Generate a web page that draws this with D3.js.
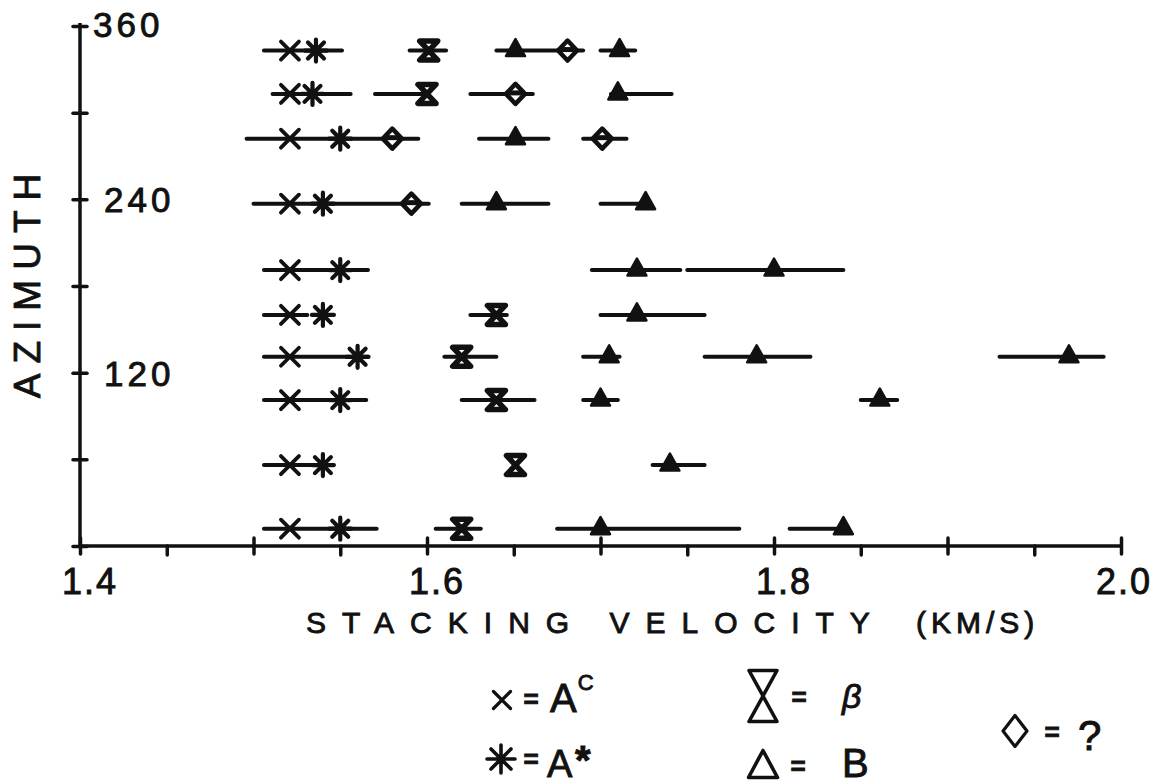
<!DOCTYPE html>
<html>
<head>
<meta charset="utf-8">
<script src="https://cdn.jsdelivr.net/npm/d3@7"></script>
<style>
  html, body { margin: 0; padding: 0; background: #fff; }
  svg { display: block; }
  text { font-family: "Liberation Sans", "DejaVu Sans", sans-serif; fill: #111; stroke: #111; stroke-width: 0.9px; }
</style>
</head>
<body>
<svg id="chart" width="1153" height="784"></svg>
<script>
// ---------------- data ----------------
const azimuth = [343, 313, 282, 237, 191, 160, 131, 101, 56, 12];
const velAc    = [1.521, 1.521, 1.521, 1.521, 1.521, 1.521, 1.521, 1.521, 1.521, 1.521];
const velAstar = [1.536, 1.534, 1.550, 1.540, 1.550, 1.540, 1.560, 1.550, 1.540, 1.550];
const velBeta  = [1.601, 1.600, null, null, null, 1.640, 1.620, 1.640, 1.651, 1.620];
const velB = [
  [1.651, 1.711], [1.710], [1.651], [1.640, 1.726], [1.721, 1.800],
  [1.721], [1.705, 1.790, 1.970], [1.700, 1.861], [1.740], [1.700, 1.840]
];
const velQ = [[1.681], [1.651], [1.580, 1.701], [1.591], [], [], [], [], [], []];
const barRanges = [
  [[1.506, 1.551], [1.590, 1.611], [1.640, 1.690], [1.700, 1.720]],
  [[1.511, 1.556], [1.570, 1.600], [1.625, 1.661], [1.706, 1.741]],
  [[1.496, 1.595], [1.630, 1.670], [1.690, 1.715]],
  [[1.500, 1.601], [1.620, 1.670], [1.700, 1.726]],
  [[1.506, 1.566], [1.695, 1.746], [1.750, 1.840]],
  [[1.506, 1.531], [1.625, 1.646], [1.700, 1.760]],
  [[1.506, 1.566], [1.610, 1.640], [1.690, 1.711], [1.760, 1.821], [1.930, 1.990]],
  [[1.506, 1.565], [1.620, 1.662], [1.690, 1.710], [1.850, 1.871]],
  [[1.506, 1.540], [1.730, 1.760]],
  [[1.506, 1.571], [1.605, 1.631], [1.675, 1.780], [1.809, 1.840]]
];
const xMinorTicks = [1.45, 1.55, 1.65, 1.75, 1.85, 1.95];
const xMajorTicks = [1.4, 1.5, 1.6, 1.7, 1.8, 1.9, 2.0];
const xTickLabels = ["1.4", "1.6", "1.8", "2.0"];
const xLabelValues = [1.4, 1.6, 1.8, 2.0];
const yTicks = [0, 60, 120, 180, 240, 300, 360];
const yTickLabels = ["120", "240", "360"];
const yLabelValues = [120, 240, 360];
const xTitle = "STACKING VELOCITY";
const xTitleUnit = "(KM/S)";
const yTitle = "AZIMUTH";

// ---------------- setup ----------------
const svg = d3.select("#chart");
svg.append("rect").attr("width", 1153).attr("height", 784).attr("fill", "#fff");

const x = d3.scaleLinear().domain([1.4, 2.0]).range([80, 1121]);
const y = d3.scaleLinear().domain([0, 360]).range([546, 26]);
const INK = "#111";

// ---------------- axes ----------------
const gx = svg.append("g").attr("transform", `translate(0,${y(0)})`);
gx.call(d3.axisBottom(x).tickValues(xMinorTicks).tickSize(9).tickFormat(""));
const gxMaj = svg.append("g").attr("transform", `translate(0,${y(0)})`);
gxMaj.call(d3.axisBottom(x).tickValues(xMajorTicks).tickSize(8).tickFormat(""));
gxMaj.selectAll(".tick line").attr("y1", -8).attr("y2", 8);
gxMaj.select(".domain").remove();
gx.select(".domain").attr("d", `M${x(1.4)},0H${x(2.0)}`);

const gy = svg.append("g").attr("transform", `translate(${x(1.4)},0)`);
gy.call(d3.axisLeft(y).tickValues(yTicks).tickSize(7).tickFormat(""));
gy.selectAll(".tick line").attr("x1", -7).attr("x2", 7);
gy.select(".domain").attr("d", `M0,${y(362)}V${y(0)}`);

svg.selectAll(".domain").attr("stroke", INK).attr("stroke-width", 3.5).attr("fill", "none");
svg.selectAll(".tick line").attr("stroke", INK).attr("stroke-width", 3.5).attr("stroke-linecap", "round");

// x tick labels
svg.append("g").selectAll("text").data(xLabelValues).join("text")
  .attr("x", d => x(d) + (d >= 2.0 ? 3 : 10)).attr("y", 594)
  .attr("text-anchor", "middle").attr("font-size", 36).attr("letter-spacing", 2)
  .text((d, i) => xTickLabels[i]);

// y tick labels
svg.append("g").selectAll("text").data(yLabelValues).join("text")
  .attr("x", d => d === 360 ? 93 : 104)
  .attr("y", d => d === 360 ? 37 : y(d) + 13)
  .attr("font-size", 35).attr("letter-spacing", 4)
  .text((d, i) => yTickLabels[i]);

// axis titles
svg.append("text").attr("x", 306).attr("y", 633).attr("font-size", 30)
  .attr("letter-spacing", 16).text(xTitle);
svg.append("text").attr("x", 916).attr("y", 633).attr("font-size", 30)
  .attr("letter-spacing", 5).text(xTitleUnit);

svg.append("text")
  .attr("transform", `translate(40,${(170 + 392) / 2}) rotate(-90)`)
  .attr("text-anchor", "middle").attr("font-size", 37).attr("letter-spacing", 10)
  .text(yTitle);

// ---------------- symbols ----------------
const sym = {
  cross: (s) => `M${-s},${-s}L${s},${s}M${-s},${s}L${s},${-s}`,
  star: (s, t) => `M${-s},${-s}L${s},${s}M${-s},${s}L${s},${-s}M0,${-t}L0,${t}M${-t},0L${t},0`,
  hourglass: (w, h) => `M${-w},${-h}L${w},${-h}L0,0ZM0,0L${-w},${h}L${w},${h}Z`,
  tri: (w, up, down) => `M0,${-up}L${w},${down}L${-w},${down}Z`,
  diamond: (w, h) => `M0,${-h}L${w},0L0,${h}L${-w},0Z`
};

// ---------------- data marks ----------------
const plot = svg.append("g");

// error bars
const segs = [];
barRanges.forEach((row, i) => row.forEach(r => segs.push({ az: azimuth[i], lo: r[0], hi: r[1] })));
plot.append("g").selectAll("line").data(segs).join("line")
  .attr("x1", d => x(d.lo)).attr("x2", d => x(d.hi))
  .attr("y1", d => y(d.az)).attr("y2", d => y(d.az))
  .attr("stroke", INK).attr("stroke-width", 4).attr("stroke-linecap", "round");

function pts(arr) {
  return arr.map((v, i) => ({ v, az: azimuth[i] })).filter(d => d.v != null);
}
function multiPts(arr) {
  const out = [];
  arr.forEach((row, i) => row.forEach(v => out.push({ v, az: azimuth[i] })));
  return out;
}

// diamonds (?)
plot.append("g").selectAll("path").data(multiPts(velQ)).join("path")
  .attr("transform", d => `translate(${x(d.v)},${y(d.az)})`)
  .attr("d", sym.diamond(9.5, 10))
  .attr("fill", "#fff").attr("stroke", INK).attr("stroke-width", 4.5).attr("stroke-linejoin", "round");
plot.append("g").selectAll("line").data(multiPts(velQ)).join("line")
  .attr("x1", d => x(d.v) - 9).attr("x2", d => x(d.v) + 9)
  .attr("y1", d => y(d.az) - 1).attr("y2", d => y(d.az) - 1)
  .attr("stroke", INK).attr("stroke-width", 5);

// A^c crosses
plot.append("g").selectAll("path").data(pts(velAc)).join("path")
  .attr("transform", d => `translate(${x(d.v)},${y(d.az)})`)
  .attr("d", sym.cross(9))
  .attr("fill", "none").attr("stroke", INK).attr("stroke-width", 3.8).attr("stroke-linecap", "round");

// A* asterisks
plot.append("g").selectAll("path").data(pts(velAstar)).join("path")
  .attr("transform", d => `translate(${x(d.v)},${y(d.az)})`)
  .attr("d", sym.star(8, 11))
  .attr("fill", "none").attr("stroke", INK).attr("stroke-width", 4.2).attr("stroke-linecap", "round");

// beta hourglasses
plot.append("g").selectAll("path").data(pts(velBeta)).join("path")
  .attr("transform", d => `translate(${x(d.v)},${y(d.az)})`)
  .attr("d", sym.hourglass(9, 9.5))
  .attr("fill", "#fff").attr("stroke", INK).attr("stroke-width", 5.5).attr("stroke-linejoin", "round");

// B triangles
plot.append("g").selectAll("path").data(multiPts(velB)).join("path")
  .attr("transform", d => `translate(${x(d.v)},${y(d.az)})`)
  .attr("d", sym.tri(9.5, 11.5, 5.5))
  .attr("fill", INK).attr("stroke", INK).attr("stroke-width", 2.5).attr("stroke-linejoin", "round");

// ---------------- legend ----------------
const lg = svg.append("g");
const legStroke = { fill: "none", stroke: INK, "stroke-width": 3.2, "stroke-linecap": "round", "stroke-linejoin": "round" };
function symAt(d, cx, cy, sw) {
  const p = lg.append("path").attr("d", d).attr("transform", `translate(${cx},${cy})`);
  Object.entries(legStroke).forEach(([k, v]) => p.attr(k, v));
  if (sw) p.attr("stroke-width", sw);
  return p;
}
symAt(sym.cross(8.5), 502, 700);
symAt(sym.star(10, 14), 501, 759, 3.6);
symAt(sym.hourglass(14, 25.5), 763, 696, 3.6);
symAt(sym.tri(14.5, 13.5, 13.5), 763, 764, 3.6);
symAt(sym.diamond(12, 15.5), 1015, 731, 3.2);

function eq(cx, cy) {
  lg.append("text").attr("x", cx).attr("y", cy + 8).attr("text-anchor", "middle")
    .attr("font-size", 26).attr("font-weight", "bold").text("=");
}
eq(531, 700); eq(531, 760); eq(799, 698); eq(798, 767); eq(1052, 733);

const t1 = lg.append("text").attr("x", 550).attr("y", 712).attr("font-size", 40);
t1.append("tspan").text("A");
t1.append("tspan").attr("font-size", 22).attr("dy", -22).attr("dx", 1).text("C");

lg.append("text").attr("x", 547).attr("y", 777).attr("font-size", 38).text("A");
lg.append("text").attr("x", 575).attr("y", 774).attr("font-family", "DejaVu Sans, sans-serif")
  .attr("font-size", 40).attr("font-weight", "bold").text("*");

lg.append("text").attr("x", 842).attr("y", 708).attr("font-size", 34).attr("stroke-width", 0.6)
  .attr("font-style", "italic").attr("font-family", "DejaVu Serif, serif").text("β");
lg.append("text").attr("x", 842).attr("y", 777).attr("font-size", 40).text("B");
lg.append("text").attr("x", 1078).attr("y", 750).attr("font-size", 42).text("?");
</script>
</body>
</html>
